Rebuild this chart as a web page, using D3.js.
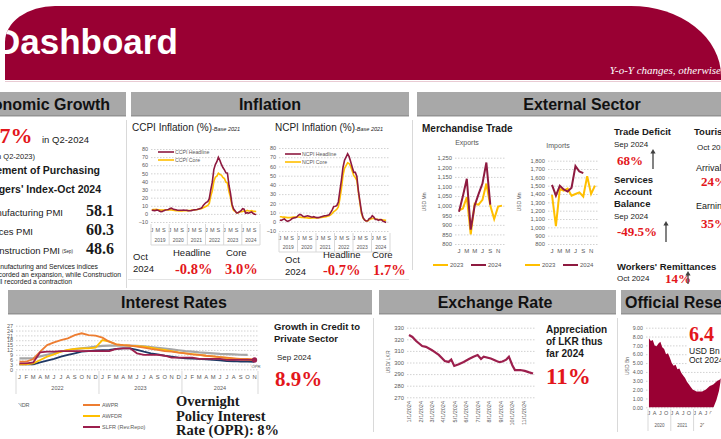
<!DOCTYPE html>
<html>
<head>
<meta charset="utf-8">
<style>
  body { margin: 0; background: #fff; }
  svg { display: block; font-family: "Liberation Sans", Arial, sans-serif; }
</style>
<script src="https://d3js.org/d3.v7.min.js"></script>
</head>
<body>
<script>
// ---- data ----
const monthInitials = ["J","F","M","A","M","J","J","A","S","O","N","D"];
const inflYears = ["2019","2020","2021","2022","2023","2024"];
const ccpiHeadline = [4.5,4.3,4.0,4.6,4.8,3.5,2.8,3.0,4.0,4.8,5.0,5.5,
  6.5,7.0,6.0,5.5,5.0,4.5,4.5,4.4,4.5,4.6,4.5,4.5,
  4.0,3.8,4.0,4.5,5.0,5.2,5.5,6.0,6.5,7.5,10.5,12.5,
  14.2,15.1,18.7,29.8,39.1,54.6,60.8,64.3,69.8,66.0,61.0,57.2,
  54.2,50.6,50.3,35.3,25.2,12.0,6.3,4.0,1.3,1.5,2.8,4.0,
  6.4,5.9,0.9,1.5,0.9,1.7,2.4,0.5,-0.5,-0.8];
const ccpiCore = [5.0,5.2,5.3,5.5,5.2,5.0,4.8,4.7,4.8,4.9,5.0,5.1,
  5.0,4.8,4.5,4.2,4.0,3.8,3.6,3.5,3.6,3.8,3.9,4.0,
  4.0,4.2,4.5,4.8,5.0,5.2,5.5,5.8,6.0,6.5,7.5,8.5,
  9.5,10.5,13.0,22.0,28.4,39.9,45.3,46.6,50.2,48.6,47.9,45.0,
  43.5,39.1,38.1,27.6,20.5,9.8,4.6,3.2,1.4,1.2,2.2,2.8,
  3.0,3.6,3.1,4.4,3.5,3.6,4.1,3.1,3.1,3.0];
const ncpiHeadline = [2.0,1.5,2.5,3.0,1.5,0.5,1.0,2.0,3.5,4.0,4.5,5.0,
  7.0,8.0,7.5,6.0,5.5,6.0,6.5,6.0,5.5,5.0,5.5,5.0,
  4.5,4.5,5.0,5.5,6.0,6.5,6.5,7.0,7.5,10.0,13.0,16.5,
  16.8,17.5,21.5,33.8,45.3,58.9,66.7,70.2,73.7,70.6,65.0,59.2,
  53.6,53.6,49.2,33.6,22.1,10.8,4.6,2.1,0.8,1.0,3.4,4.2,
  6.5,5.1,2.5,2.7,1.6,2.4,2.2,0.5,0.0,-0.7];
const ncpiCore = [5.5,5.5,5.0,5.0,4.8,4.5,4.5,4.6,4.8,5.0,5.2,5.3,
  5.2,5.0,4.8,4.6,4.5,4.3,4.2,4.0,4.0,4.1,4.2,4.3,
  4.2,4.3,4.5,4.8,5.0,5.3,5.6,6.0,6.5,7.5,9.0,11.0,
  12.0,13.5,16.0,25.0,36.0,50.0,58.0,61.0,64.0,63.0,60.0,55.0,
  50.0,48.0,45.0,32.0,20.0,9.0,4.0,2.0,1.0,1.0,2.0,3.0,
  3.5,3.8,3.0,2.8,2.5,2.2,2.3,2.0,1.8,1.7];

const exports2023 = [975,985,1045,850,1010,1005,1030,1115,1000,930,995,1000];
const exports2024 = [968,1050,1140,875,1000,1060,1115,1225,1005];
const imports2023 = [1390,1015,1460,1440,1465,1380,1400,1420,1370,1615,1400,1500];
const imports2024 = [1510,1380,1500,1455,1430,1475,1735,1670,1650];

const rateYears = ["2022","2023","2024"];
const awpr  = [4.7,4.7,6.4,10.9,15.0,16.7,18.1,19.2,21.2,22.3,21.2,20.8,
  19.6,17.1,15.5,15.0,14.6,14.0,13.4,12.6,12.0,11.3,10.9,10.3,
  9.9,9.3,8.9,8.4,8.0,7.6,7.2,6.8,6.4,6.4,6.2];
const awfdr = [3.1,3.1,3.7,5.8,7.8,9.3,10.9,12.0,12.6,13.0,13.0,13.4,
  18.1,17.1,15.5,15.0,14.6,14.4,14.0,13.4,12.6,12.0,11.3,10.5,
  9.9,9.4,8.9,8.4,8.0,7.5,7.0,6.6,6.2,5.8,5.5];
const awndr = [6.8,6.8,7.0,8.0,9.0,10.0,11.0,11.8,12.5,13.0,13.5,14.0,
  14.5,14.6,14.6,14.6,14.6,14.5,14.2,13.8,13.3,12.8,12.3,11.8,
  11.3,10.9,10.5,10.2,9.9,9.6,9.4,9.2,9.0,8.9];
const awdr  = [3.1,3.1,3.1,4.3,5.3,6.4,7.8,8.9,9.9,10.9,11.3,11.7,
  11.9,12.0,12.6,13.0,13.0,12.0,10.9,9.9,9.3,8.4,7.8,7.2,
  6.8,6.6,6.4,6.2,5.8,5.6,5.1,5.0,4.7,4.7,4.6];
const slfr  = [3.7,3.7,4.3,10.5,10.9,10.9,11.3,11.3,11.3,11.3,11.3,11.3,
  11.3,11.3,12.6,13.0,13.0,9.9,8.9,8.9,8.9,8.4,7.2,7.2,
  7.2,7.2,6.4,6.4,6.4,6.4,5.8,5.8,5.8,5.8,5.8];

const fxDates = ["2024-01-01","2024-01-10","2024-01-20","2024-02-05","2024-02-15","2024-03-01",
  "2024-03-20","2024-04-05","2024-04-15","2024-04-22","2024-04-30","2024-05-12","2024-05-25",
  "2024-06-08","2024-06-20","2024-07-01","2024-07-10","2024-07-17","2024-08-05","2024-08-20",
  "2024-08-28","2024-09-05","2024-09-15","2024-09-22","2024-10-01","2024-10-08","2024-10-22",
  "2024-11-03","2024-11-15","2024-11-25"];
const fxRates = [323.7,322,318.5,314.2,313.5,310.8,306.5,301.3,300.5,302.5,297,298.5,300.5,
  303,305,306.5,303,305,303.5,301.3,300.3,300.8,302.5,305,297.7,293.5,293.5,292.8,291.5,290.5];

const reserveYears = ["2020","2021","2022","2023","2024"];
const reserves = [7.8,7.5,7.6,7.0,6.9,7.2,7.4,6.8,6.6,6.0,6.1,5.6,
  5.0,4.7,4.8,4.3,4.4,3.9,3.6,3.3,2.9,2.6,2.3,2.0,
  1.9,1.8,1.8,1.8,1.8,1.9,2.0,2.2,2.4,2.5,2.6,2.8,
  3.0,3.1,3.3,3.5,3.7,3.8,3.6,3.5,3.6,4.0,4.4,4.4,
  4.5,4.5,5.0,5.4,5.6,5.6,5.6,6.0,6.0,6.4];

// ---- setup ----
const W = 721, H = 439;
const serif = '"Liberation Serif", "Times New Roman", serif';
const MAROON = "#8e1a40", GOLD = "#ffbf00", RED = "#e3161b", AXIS = "#595959";
const svg = d3.select("body").append("svg").attr("width", W).attr("height", H);

function txt(g, x, y, s, size, o = {}) {
  const t = g.append("text").attr("x", x).attr("y", y).attr("font-size", size)
    .attr("fill", o.fill || "#1a1a1a").text(s);
  if (o.bold) t.attr("font-weight", "bold");
  if (o.anchor) t.attr("text-anchor", o.anchor);
  if (o.serif) t.attr("font-family", serif);
  if (o.italic) t.attr("font-style", "italic");
  return t;
}
function val(g, x, y, s, size, fill) { return txt(g, x, y, s, size, {bold: true, serif: true, fill: fill || RED}); }

function yGrid(g, y, ticks, x0, x1, fmt, size) {
  g.append("g").attr("transform", `translate(${x0},0)`)
    .call(d3.axisLeft(y).tickValues(ticks).tickSize(-(x1 - x0)).tickPadding(3).tickFormat(fmt))
    .attr("font-family", null).attr("font-size", null)
    .call(a => a.select(".domain").remove())
    .call(a => a.selectAll("line").attr("stroke", "#d2d2d2").attr("stroke-dasharray", "1.5,1.5"))
    .call(a => a.selectAll("text").attr("font-size", size).attr("fill", AXIS));
}
function vline(g, x, y0, y1, c = "#d9d9d9") {
  g.append("line").attr("x1", x).attr("x2", x).attr("y1", y0).attr("y2", y1).attr("stroke", c);
}
function hline(g, x0, x1, y, c = "#d9d9d9") {
  g.append("line").attr("x1", x0).attr("x2", x1).attr("y1", y).attr("y2", y).attr("stroke", c);
}
function arrow(g, x, yb, yt) {
  g.append("line").attr("x1", x).attr("x2", x).attr("y1", yb).attr("y2", yt + 3)
    .attr("stroke", "#404040").attr("stroke-width", 1.3);
  g.append("path").attr("d", `M${x-2.6},${yt+4.5}L${x},${yt}L${x+2.6},${yt+4.5}Z`).attr("fill", "#404040");
}
function bar(x0, x1, y0, label, tx, anchor) {
  svg.append("rect").attr("x", x0).attr("y", y0).attr("width", x1 - x0).attr("height", 24).attr("fill", "#a8a8a8");
  svg.append("rect").attr("x", x0).attr("y", y0 + 23).attr("width", x1 - x0).attr("height", 1.5).attr("fill", "#939393");
  txt(svg, tx, y0 + 17.5, label, 16, {bold: true, anchor: anchor || "middle", fill: "#111"});
}

// ---- header ----
const headerPath = "M5,80 L5,42 A50,36 0 0 1 55,6 L631,6 A90,70 0 0 1 721,76 L721,80 Z";
svg.append("clipPath").attr("id", "hdrClip").append("path").attr("d", headerPath);
svg.append("path").attr("d", headerPath).attr("fill", "#990033");
const hg = svg.append("g").attr("clip-path", "url(#hdrClip)");
txt(hg, -5, 54, "Dashboard", 35, {bold: true, fill: "#fff"});
txt(hg, 721, 74, "Y-o-Y changes, otherwise", 11, {italic: true, serif: true, fill: "#fff", anchor: "end"});
hline(svg, 5, 721, 81.5, "#e9cbd3");

// ---- section bars ----
bar(0, 126, 92, "Economic Growth", 110, "end");
bar(131, 409, 92, "Inflation", 270);
bar(417, 740, 92, "External Sector", 582);
bar(8, 372, 290, "Interest Rates", 174);
bar(379, 616, 290, "Exchange Rate", 495);
bar(621, 740, 290, "Official Reserves", 625, "start");

// panel borders
vline(svg, 126.5, 120, 288);
vline(svg, 412.5, 120, 270);
hline(svg, 128, 409, 279.5, "#e3e3e3");
vline(svg, 373.5, 318, 432);
vline(svg, 617.5, 318, 432);

// ---- economic growth ----
const eg = svg.append("g");
val(eg, -17, 143, "4.7%", 22);
txt(eg, 42, 143, "in Q2-2024", 9.5);
txt(eg, 35, 159, "(-3.1% in Q2-2023)", 7.5, {anchor: "end"});
txt(eg, 100, 174, "Movement of Purchasing", 10.5, {bold: true, anchor: "end"});
txt(eg, 101, 193, "Managers' Index-Oct 2024", 10.5, {bold: true, anchor: "end"});
txt(eg, 63, 216, "Manufacturing PMI", 9.5, {anchor: "end"});
txt(eg, 33, 235, "Services PMI", 9.5, {anchor: "end"});
txt(eg, 60, 254, "Construction PMI", 9.5, {anchor: "end"});
txt(eg, 62, 253, "(Sep)", 4.5);
val(eg, 86, 216, "58.1", 16, "#1a1a1a");
val(eg, 86, 235, "60.3", 16, "#1a1a1a");
val(eg, 86, 254, "48.6", 16, "#1a1a1a");
txt(eg, 98, 269, "Manufacturing and Services indices", 6.8, {anchor: "end"});
txt(eg, 121, 276.5, "recorded an expansion, while Construction", 6.8, {anchor: "end"});
txt(eg, 72, 284, "PMI recorded a contraction", 6.8, {anchor: "end"});

// ---- inflation charts ----
function inflChart(c) {
  const g = svg.append("g");
  const x = d3.scaleLinear().domain([-0.5, 71.5]).range([c.x0, c.x1]);
  const y = d3.scaleLinear().domain([-10, 80]).range([c.yb, c.yt]);
  yGrid(g, y, d3.range(-10, 81, 10), c.x0, c.x1, d3.format("d"), 5.5);
  g.selectAll(".mo").data(d3.range(0, 72, 4)).join("text")
    .attr("x", i => x(i)).attr("y", c.ml).attr("text-anchor", "middle")
    .attr("font-size", 5.5).attr("fill", AXIS).text(i => monthInitials[i % 12]);
  g.selectAll(".yr").data(inflYears).join("text")
    .attr("x", (d, k) => x(k * 12 + 5.5)).attr("y", c.yl).attr("text-anchor", "middle")
    .attr("font-size", 5).attr("fill", AXIS).text(d => d);
  d3.range(7).forEach(k => vline(g, x(k * 12 - 0.5), c.yb + 2, c.yl + 3));
  hline(g, c.x0, c.x1, c.yl + 3);
  const line = d3.line().x((d, i) => x(i)).y(d => y(d));
  g.append("path").attr("d", line(c.core)).attr("fill", "none").attr("stroke", GOLD).attr("stroke-width", 1.6);
  g.append("path").attr("d", line(c.head)).attr("fill", "none").attr("stroke", MAROON).attr("stroke-width", 1.6);
  [[c.names[0], MAROON, c.lg], [c.names[1], GOLD, c.lg + 8]].forEach(([n, col, ly]) => {
    g.append("line").attr("x1", c.lx).attr("x2", c.lx + 16).attr("y1", ly).attr("y2", ly)
      .attr("stroke", col).attr("stroke-width", 1.6);
    txt(g, c.lx + 17, ly + 2, n, 5.2, {fill: AXIS});
  });
  const t = txt(g, c.tx, 131, c.title, 10, {fill: "#222"});
  t.append("tspan").attr("font-size", 5.5).attr("font-style", "italic").text("-Base 2021");
}
inflChart({x0: 151, x1: 260, yt: 149, yb: 222, ml: 232, yl: 242, lx: 158, lg: 152,
  head: ccpiHeadline, core: ccpiCore, names: ["CCPI Headline", "CCPI Core"],
  tx: 132, title: "CCPI Inflation (%)"});
inflChart({x0: 279, x1: 390, yt: 148, yb: 231, ml: 240, yl: 249, lx: 285, lg: 154,
  head: ncpiHeadline, core: ncpiCore, names: ["NCPI Headline", "NCPI Core"],
  tx: 275, title: "NCPI Inflation (%)"});

const ig = svg.append("g");
txt(ig, 133, 260, "Oct", 9.5);
txt(ig, 133, 272, "2024", 9.5);
txt(ig, 173, 256, "Headline", 9.5);
txt(ig, 226, 256, "Core", 9.5);
val(ig, 175, 274, "-0.8%", 14.5);
val(ig, 225, 274, "3.0%", 14.5);
txt(ig, 285, 263, "Oct", 9.5);
txt(ig, 285, 275, "2024", 9.5);
txt(ig, 323, 258, "Headline", 9.5);
txt(ig, 372, 258, "Core", 9.5);
val(ig, 323, 275, "-0.7%", 14.5);
val(ig, 373, 275, "1.7%", 14.5);

// ---- merchandise trade ----
txt(svg, 422, 132, "Merchandise Trade", 10, {bold: true});
function tradeChart(c) {
  const g = svg.append("g");
  const x = d3.scaleLinear().domain([0, 11]).range([c.x0, c.x1]);
  const y = d3.scaleLinear().domain(c.dom).range([244, c.yt]);
  yGrid(g, y, d3.range(c.dom[0], c.dom[1] + 1, c.step), c.x0 - 4, c.x1 + 3, d3.format(","), 5.8);
  g.selectAll(".mo").data(d3.range(0, 12, 2)).join("text")
    .attr("x", i => x(i)).attr("y", 253).attr("text-anchor", "middle")
    .attr("font-size", 6).attr("fill", AXIS).text(i => monthInitials[i]);
  const line = d3.line().x((d, i) => x(i)).y(d => y(d));
  g.append("path").attr("d", line(c.a)).attr("fill", "none").attr("stroke", GOLD).attr("stroke-width", 2);
  g.append("path").attr("d", line(c.b)).attr("fill", "none").attr("stroke", MAROON).attr("stroke-width", 2);
  txt(g, c.tx, c.ty, c.title, 7, {anchor: "middle", fill: AXIS});
  txt(g, 0, 0, "USD Mn", 5, {anchor: "middle", fill: AXIS}).attr("transform", `translate(${c.ux},202) rotate(-90)`);
  [["2023", GOLD, c.lx], ["2024", MAROON, c.lx + 38]].forEach(([n, col, lx]) => {
    g.append("line").attr("x1", lx).attr("x2", lx + 15).attr("y1", 265).attr("y2", 265)
      .attr("stroke", col).attr("stroke-width", 2);
    txt(g, lx + 17, 267, n, 6, {fill: AXIS});
  });
}
tradeChart({x0: 459, x1: 502, yt: 157.7, dom: [800, 1250], step: 50, a: exports2023, b: exports2024,
  title: "Exports", tx: 467, ty: 145, ux: 426, lx: 433});
tradeChart({x0: 552, x1: 595, yt: 160.7, dom: [800, 1800], step: 100, a: imports2023, b: imports2024,
  title: "Imports", tx: 558, ty: 148, ux: 521, lx: 525});

// ---- external sector figures ----
const xg = svg.append("g");
txt(xg, 614, 135, "Trade Deficit", 9.5, {bold: true});
txt(xg, 614, 146.5, "Sep 2024", 8);
val(xg, 617, 165, "68%", 13);
arrow(xg, 653, 169, 149);
txt(xg, 614, 183, "Services", 9.5, {bold: true});
txt(xg, 614, 195, "Account", 9.5, {bold: true});
txt(xg, 614, 207, "Balance", 9.5, {bold: true});
txt(xg, 614, 218.5, "Sep 2024", 8);
val(xg, 617, 236, "-49.5%", 13);
arrow(xg, 666, 242, 221);
txt(xg, 694, 135, "Tourism", 9.5, {bold: true});
txt(xg, 697, 149.5, "Oct 2024", 8);
txt(xg, 696, 171, "Arrivals", 9);
val(xg, 701, 185.5, "24%", 13);
txt(xg, 696, 209, "Earnings", 9);
val(xg, 701, 227.5, "35%", 13);
txt(xg, 617, 269.5, "Workers' Remittances", 9.5, {bold: true});
txt(xg, 617, 280.5, "Oct 2024", 8);
val(xg, 665, 282.5, "14%", 13);
arrow(xg, 688, 284, 271);

// ---- interest rates ----
(function () {
  const g = svg.append("g");
  const x = d3.scaleLinear().domain([-0.5, 34.5]).range([16, 258]);
  const y = d3.scaleLinear().domain([0, 27]).range([369.3, 325.7]);
  yGrid(g, y, d3.range(0, 28, 3), 16, 258, d3.format("d"), 5.5);
  g.selectAll(".mo").data(d3.range(35)).join("text")
    .attr("x", i => x(i)).attr("y", 379).attr("text-anchor", "middle")
    .attr("font-size", 5.8).attr("fill", AXIS).text(i => monthInitials[i % 12]);
  g.selectAll(".yr").data(rateYears).join("text")
    .attr("x", (d, k) => x(Math.min(k * 12 + 5.5, 29))).attr("y", 390).attr("text-anchor", "middle")
    .attr("font-size", 5.5).attr("fill", AXIS).text(d => d);
  [-0.5, 11.5, 23.5, 34.5].forEach(m => vline(g, x(m), 371, 394));
  const line = d3.line().x((d, i) => x(i)).y(d => y(d));
  const series = [[awndr, "#a6a6a6", 2.2], [awdr, "#203864", 1.8], [awfdr, GOLD, 1.8],
                  [awpr, "#ed7d31", 1.8], [slfr, "#9c1f4d", 1.8]];
  series.forEach(([d, col, w]) => g.append("path").attr("d", line(d)).attr("fill", "none")
    .attr("stroke", col).attr("stroke-width", w));
  g.append("circle").attr("cx", x(34)).attr("cy", y(slfr[34])).attr("r", 2.6).attr("fill", "#9c1f4d");
  txt(g, x(34) - 3, y(slfr[34]) + 8, "OPR", 4.2, {fill: AXIS});
  const legend = [["AWNDR", "#a6a6a6", -10, 405], ["AWDR", "#203864", -10, 416], ["SDFR (Repo)", "#7030a0", -10, 427],
                  ["AWPR", "#ed7d31", 83, 405], ["AWFDR", GOLD, 83, 416], ["SLFR (Rev.Repo)", "#9c1f4d", 83, 427]];
  legend.forEach(([n, col, lx, ly]) => {
    g.append("line").attr("x1", lx).attr("x2", lx + 17).attr("y1", ly).attr("y2", ly)
      .attr("stroke", col).attr("stroke-width", 2);
    txt(g, lx + 19, ly + 2, n, 5.5, {fill: AXIS});
  });
  txt(g, 176, 406, "Overnight", 14.5, {bold: true, serif: true});
  txt(g, 176, 420.5, "Policy Interest", 14.5, {bold: true, serif: true});
  txt(g, 176, 435, "Rate (OPR): 8%", 14.5, {bold: true, serif: true});
})();

// credit growth
const cg = svg.append("g");
txt(cg, 274, 330, "Growth in Credit to", 9.5, {bold: true});
txt(cg, 274, 341.5, "Private Sector", 9.5, {bold: true});
txt(cg, 277, 360, "Sep 2024", 8);
val(cg, 275, 386, "8.9%", 21);

// ---- exchange rate ----
(function () {
  const g = svg.append("g");
  const parse = d3.timeParse("%Y-%m-%d");
  const x = d3.scaleTime().domain([parse("2024-01-01"), parse("2024-11-01")]).range([409, 524]);
  const y = d3.scaleLinear().domain([270, 330]).range([397.3, 327.7]);
  yGrid(g, y, d3.range(270, 331, 10), 407, 536, d3.format("d"), 5.8);
  g.selectAll(".dt").data(d3.timeMonth.range(parse("2024-01-01"), parse("2024-11-02"))).join("text")
    .attr("transform", d => `translate(${x(d) + 2},401) rotate(-90)`)
    .attr("text-anchor", "end").attr("font-size", 5.5).attr("fill", AXIS)
    .text(d3.timeFormat("%-m/%-d/%Y"));
  const line = d3.line().x((d, i) => x(parse(fxDates[i]))).y(d => y(d));
  g.append("path").attr("d", line(fxRates)).attr("fill", "none").attr("stroke", "#9c1f4d").attr("stroke-width", 2.2);
  txt(g, 0, 0, "USD/ LKR", 5, {anchor: "middle", fill: AXIS}).attr("transform", "translate(390,362) rotate(-90)");
  txt(g, 546, 333, "Appreciation", 10, {bold: true});
  txt(g, 546, 345, "of LKR thus", 10, {bold: true});
  txt(g, 546, 357, "far 2024", 10, {bold: true});
  val(g, 546, 384, "11%", 23);
})();

// ---- official reserves ----
(function () {
  const g = svg.append("g");
  const x = d3.scaleLinear().domain([-0.5, 59.5]).range([648, 762]);
  const y = d3.scaleLinear().domain([0, 9]).range([407.3, 327.7]);
  yGrid(g, y, d3.range(0, 10, 1), 646, 725, d3.format(".2f"), 5.3);
  const area = d3.area().x((d, i) => x(i)).y0(y(0)).y1(d => y(d));
  g.append("path").attr("d", area(reserves)).attr("fill", "#990033");
  g.selectAll(".q").data(d3.range(0, 58, 3)).join("text")
    .attr("x", i => x(i)).attr("y", 415).attr("text-anchor", "middle")
    .attr("font-size", 5.5).attr("fill", AXIS).text(i => monthInitials[i % 12]);
  g.selectAll(".yr").data(reserveYears).join("text")
    .attr("x", (d, k) => x(k * 12 + 5.5)).attr("y", 427).attr("text-anchor", "middle")
    .attr("font-size", 4.5).attr("fill", AXIS).text(d => d);
  d3.range(6).forEach(k => vline(g, x(k * 12 - 0.5), 409, 431));
  txt(g, 0, 0, "USD Bn", 5, {anchor: "middle", fill: AXIS}).attr("transform", "translate(629,366) rotate(-90)");
  g.append("rect").attr("x", 687).attr("y", 326).attr("width", 40).attr("height", 38).attr("fill", "#fff");
  val(g, 689, 341, "6.4", 20);
  txt(g, 689, 354, "USD Bn", 8.5);
  txt(g, 689, 363, "Oct 2024", 8.5);
})();

// ---- rounded photo corners ----
svg.append("path").attr("d", "M0,349 A90,90 0 0 0 90,439 L0,439 Z").attr("fill", "#fff");
svg.append("path").attr("d", "M721,372 A88,88 0 0 1 690,439 L721,439 Z").attr("fill", "#fff");
</script>
</body>
</html>
